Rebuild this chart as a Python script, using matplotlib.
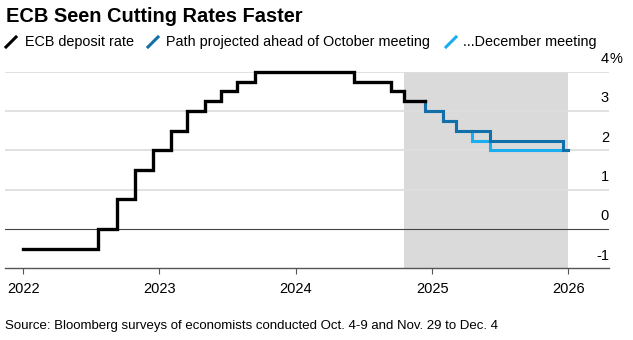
import matplotlib
matplotlib.use("Agg")
import matplotlib.pyplot as plt
import matplotlib.dates as mdates
import matplotlib.transforms as mtransforms
from matplotlib.lines import Line2D
import pandas as pd

plt.rcParams['font.family'] = ['Liberation Sans', 'DejaVu Sans']

# ---------------- data ----------------
title = "ECB Seen Cutting Rates Faster"
source = "Source: Bloomberg surveys of economists conducted Oct. 4-9 and Nov. 29 to Dec. 4"
series_names = ["ECB deposit rate", "Path projected ahead of October meeting", "...December meeting"]

ecb_dates = ['2022-01-01', '2022-07-21', '2022-09-08', '2022-10-27', '2022-12-15',
             '2023-02-02', '2023-03-16', '2023-05-04', '2023-06-15', '2023-07-27',
             '2023-09-14', '2024-06-06', '2024-09-12', '2024-10-17', '2024-12-12']
ecb_rates = [-0.5, 0.0, 0.75, 1.5, 2.0, 2.5, 3.0, 3.25, 3.5, 3.75, 4.0, 3.75, 3.5, 3.25, 3.25]

oct_dates = ['2024-12-12', '2024-12-12', '2025-01-30', '2025-03-06', '2025-06-05', '2025-12-18', '2026-01-01']
oct_rates = [3.25, 3.0, 2.75, 2.5, 2.25, 2.0, 2.0]

dec_dates = ['2024-12-12', '2024-12-12', '2025-01-30', '2025-03-06', '2025-04-17', '2025-06-05', '2026-01-01']
dec_rates = [3.25, 3.0, 2.75, 2.5, 2.25, 2.0, 2.0]

shade_start = '2024-10-17'
shade_end = '2026-01-01'

year_ticks = ['2022', '2023', '2024', '2025', '2026']
y_ticks = [-1, 0, 1, 2, 3, 4]

# ---------------- style ----------------
BLACK = '#000000'
DARK_BLUE = '#1170aa'
LIGHT_BLUE = '#1aadf0'
GRID = '#dedede'
SHADE = '#dadada'

W, H = 633, 340
fig = plt.figure(figsize=(W / 100, H / 100), dpi=100)
fig.patch.set_facecolor('white')

left_px, right_px, top_px, bot_px = 5, 609, 71.7, 268.3
ax = fig.add_axes([left_px / W, 1 - bot_px / H, (right_px - left_px) / W, (bot_px - top_px) / H])
ax.set_facecolor('white')

xd = lambda l: pd.to_datetime(l)

ax.set_xlim(pd.Timestamp('2021-11-13'), pd.Timestamp('2026-04-20'))
ax.set_ylim(-1, 4)

ax.axvspan(xd(shade_start), xd(shade_end), color=SHADE, lw=0, zorder=0)

for v in y_ticks:
    if v == 0:
        ax.axhline(v, color='#444444', lw=0.8, zorder=1)
    elif v > 0:
        ax.axhline(v, color=GRID, lw=1.3, zorder=0.5)

ax.step(xd(ecb_dates), ecb_rates, where='post', color=BLACK, lw=2.4,
        solid_joinstyle='miter', zorder=4, clip_on=False)
ax.step(xd(dec_dates), dec_rates, where='post', color=LIGHT_BLUE, lw=2.2,
        solid_joinstyle='miter', zorder=3, clip_on=False)
ax.step(xd(oct_dates), oct_rates, where='post', color=DARK_BLUE, lw=2.2,
        solid_joinstyle='miter', zorder=3.5, clip_on=False)

for s in ['top', 'right', 'left']:
    ax.spines[s].set_visible(False)
ax.spines['bottom'].set_color('#555555')
ax.spines['bottom'].set_linewidth(1.0)

ax.set_yticks([])
ax.set_xticks([pd.Timestamp(y + '-01-01') for y in year_ticks])
ax.set_xticklabels(year_ticks, fontsize=10.5)
ax.tick_params(axis='x', length=4, width=0.8, color='#555555', pad=6)

# y labels on the right, above gridlines
off = mtransforms.offset_copy(ax.transData, fig=fig, x=0, y=6.3, units='points')
trans = mtransforms.blended_transform_factory(ax.transAxes, off)
for v in y_ticks:
    if v == 4:
        ax.text(1.0, v, '4', transform=trans, ha='right', va='baseline', fontsize=10.5, clip_on=False)
        ax.text(1.0, v, '%', transform=trans, ha='left', va='baseline', fontsize=10.5, clip_on=False)
    else:
        ax.text(1.0, v, str(v), transform=trans, ha='right', va='baseline', fontsize=10.5, clip_on=False)

# title
fig.text(6 / W, 1 - 21.7 / H, title, fontsize=14.4, fontweight='bold', ha='left', va='baseline')

# legend
legend_items = [(6, 25, BLACK, series_names[0]),
                (148, 165.7, DARK_BLUE, series_names[1]),
                (446, 463, LIGHT_BLUE, series_names[2])]
for x0, tx, col, lab in legend_items:
    fig.add_artist(Line2D([x0 / W, (x0 + 10) / W], [1 - 47 / H, 1 - 37 / H],
                          color=col, lw=2.2, transform=fig.transFigure))
    fig.text(tx / W, 1 - 46 / H, lab, fontsize=10.4, ha='left', va='baseline')

# source
fig.text(5 / W, 1 - 329.5 / H, source, fontsize=9.5, ha='left', va='baseline')

fig.savefig('out.png', dpi=100)
